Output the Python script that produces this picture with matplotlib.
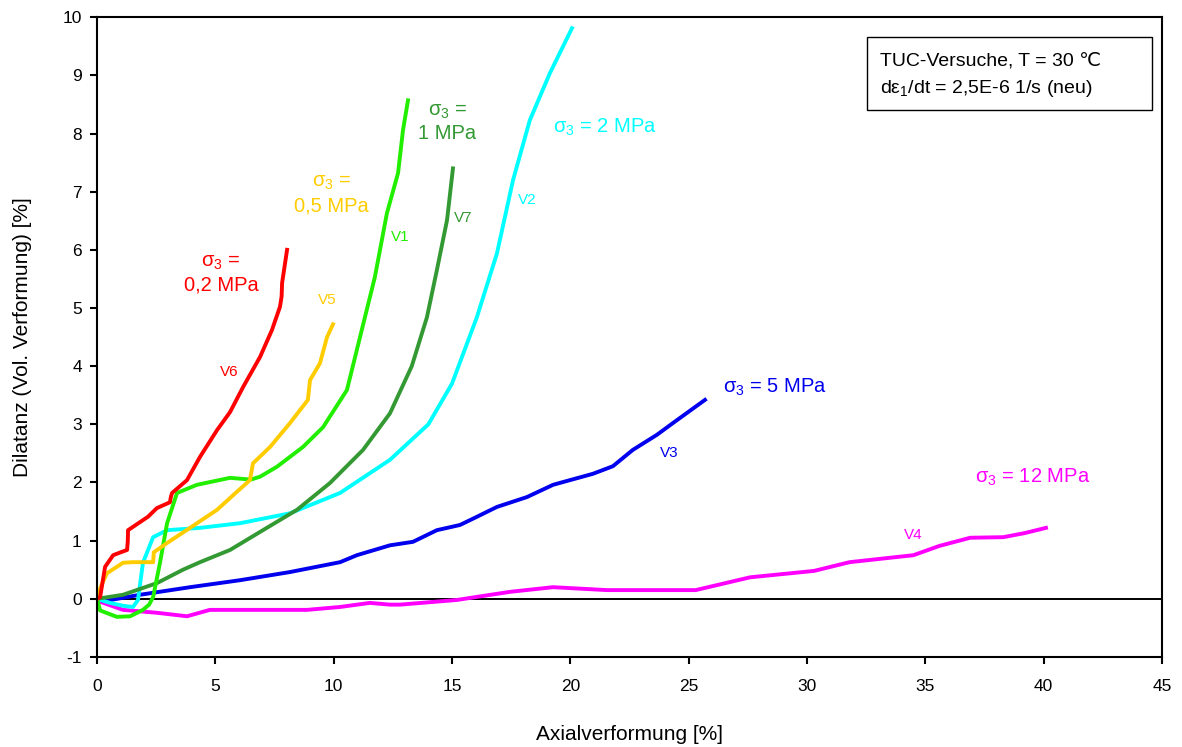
import numpy as np
import matplotlib
matplotlib.use("Agg")
import matplotlib.pyplot as plt
from matplotlib.patches import Rectangle

plt.rcParams['font.family'] = ['Liberation Sans', 'DejaVu Sans']
plt.rcParams['mathtext.fontset'] = 'custom'
plt.rcParams['mathtext.rm'] = 'Liberation Sans'
plt.rcParams['mathtext.it'] = 'Liberation Sans:italic'
plt.rcParams['axes.unicode_minus'] = False

# V6, sigma3 = 0.2 MPa
v6_x = [0, 0.13, 0.34, 0.68, 1.0, 1.27, 1.3, 1.31, 1.82, 2.15, 2.53, 3.08, 3.12, 3.17, 3.8, 4.35, 5.07, 5.62, 6.17, 6.89, 7.39, 7.73, 7.8, 7.82, 8.03]
v6_y = [0, 0.03, 0.55, 0.75, 0.8, 0.84, 1.0, 1.18, 1.32, 1.41, 1.56, 1.66, 1.75, 1.82, 2.04, 2.44, 2.9, 3.21, 3.64, 4.16, 4.62, 5.02, 5.2, 5.43, 6.0]
# V5, sigma3 = 0.5 MPa
v5_x = [0, 0.15, 0.42, 1.1, 1.5, 2.37, 2.4, 2.96, 3.93, 5.07, 5.91, 6.46, 6.59, 7.31, 8.15, 8.91, 9.0, 9.42, 9.72, 9.97]
v5_y = [0, 0.2, 0.44, 0.62, 0.63, 0.63, 0.8, 0.96, 1.22, 1.53, 1.84, 2.04, 2.33, 2.61, 3.02, 3.42, 3.76, 4.05, 4.5, 4.72]
# V1, sigma3 = 1 MPa
v1_x = [0, 0.13, 0.84, 1.4, 1.94, 2.2, 2.37, 2.66, 2.96, 3.38, 4.22, 5.62, 6.5, 6.89, 7.6, 8.7, 9.55, 10.56, 11.32, 11.74, 12.25, 12.72, 12.93, 13.14]
v1_y = [0, -0.2, -0.31, -0.3, -0.19, -0.1, 0.03, 0.62, 1.3, 1.82, 1.96, 2.08, 2.05, 2.1, 2.27, 2.61, 2.95, 3.59, 4.84, 5.53, 6.63, 7.32, 8.06, 8.57]
# V7, sigma3 = 1 MPa
v7_x = [0, 1.1, 2.53, 3.63, 4.35, 5.62, 7.01, 8.45, 9.84, 11.24, 12.38, 13.3, 13.94, 14.36, 14.79, 15.04]
v7_y = [0, 0.07, 0.27, 0.5, 0.63, 0.84, 1.18, 1.53, 1.99, 2.56, 3.19, 4.0, 4.84, 5.65, 6.51, 7.4]
# V2, sigma3 = 2 MPa
v2_x = [0, 0.55, 1.1, 1.52, 1.73, 1.94, 2.37, 2.96, 4.35, 6.04, 8.15, 10.27, 12.38, 14.0, 15.0, 16.05, 16.9, 17.58, 18.29, 19.14, 20.07]
v2_y = [0, -0.07, -0.12, -0.14, -0.02, 0.62, 1.06, 1.18, 1.22, 1.3, 1.47, 1.82, 2.39, 3.0, 3.7, 4.84, 5.94, 7.2, 8.23, 9.04, 9.81]
# V3, sigma3 = 5 MPa
v3_x = [0, 0.3, 1.82, 3.93, 6.04, 8.15, 10.27, 10.98, 12.38, 13.35, 14.36, 15.34, 16.05, 16.9, 18.17, 19.27, 19.98, 20.96, 21.8, 22.64, 23.66, 24.33, 25.69]
v3_y = [0, -0.04, 0.07, 0.2, 0.32, 0.46, 0.63, 0.75, 0.92, 0.98, 1.18, 1.27, 1.41, 1.58, 1.75, 1.96, 2.04, 2.15, 2.28, 2.56, 2.82, 3.02, 3.42]
# V4, sigma3 = 12 MPa
v4_x = [0, 0.13, 1.1, 2.53, 3.8, 4.77, 6.76, 8.87, 10.27, 11.53, 12.38, 12.8, 15.2, 17.45, 19.27, 21.55, 25.3, 27.6, 30.3, 31.8, 34.5, 35.6, 36.9, 38.3, 39.2, 40.1]
v4_y = [0, -0.05, -0.19, -0.24, -0.3, -0.19, -0.19, -0.19, -0.14, -0.07, -0.1, -0.1, -0.02, 0.12, 0.2, 0.15, 0.15, 0.37, 0.48, 0.63, 0.75, 0.91, 1.05, 1.06, 1.13, 1.22]

c_red = '#ff0000'
c_orange = '#ffcc00'
c_lime = '#22ee00'
c_dgreen = '#339933'
c_cyan = '#00ffff'
c_blue = '#0000ee'
c_mag = '#ff00ff'

fig = plt.figure(figsize=(11.82, 7.47), dpi=100)
ax = fig.add_axes([0.0821, 0.1205, 0.9009, 0.8565])

lw = 2.8
ax.axhline(0, color='black', lw=1.4, zorder=1)
ax.plot(v4_x, v4_y, color=c_mag, lw=lw)
ax.plot(v3_x, v3_y, color=c_blue, lw=lw)
ax.plot(v2_x, v2_y, color=c_cyan, lw=lw)
ax.plot(v7_x, v7_y, color=c_dgreen, lw=lw)
ax.plot(v1_x, v1_y, color=c_lime, lw=lw)
ax.plot(v5_x, v5_y, color=c_orange, lw=lw)
ax.plot(v6_x, v6_y, color=c_red, lw=lw)

ax.set_xlim(0, 45)
ax.set_ylim(-1, 10)
ax.set_xticks(np.arange(0, 46, 5))
ax.set_yticks(np.arange(-1, 11, 1))
ax.tick_params(axis='both', direction='out', length=5, width=1.5, labelsize=12.5)
ax.tick_params(axis='x', pad=11)
ax.tick_params(axis='y', pad=6)
for s in ax.spines.values():
    s.set_linewidth(1.5)

ax.set_xlabel('Axialverformung [%]', fontsize=15, labelpad=22)
ax.set_ylabel('Dilatanz (Vol. Verformung) [%]', fontsize=15, labelpad=22)

big = 14.5
small = 11
s3 = 'σ$_\\mathrm{3}$'

def two_lines(x, y1, y2, l1, l2, col):
    ax.text(x, y1, l1, color=col, fontsize=big, ha='center', va='center')
    ax.text(x, y2, l2, color=col, fontsize=big, ha='center', va='center')

two_lines(5.24, 5.79, 5.40, s3 + ' =', '0,2 MPa', c_red)
two_lines(9.9, 7.16, 6.75, s3 + ' =', '0,5 MPa', c_orange)
two_lines(14.8, 8.38, 8.0, s3 + ' =', '1 MPa', c_dgreen)
ax.text(19.26, 8.11, s3 + ' = 2 MPa', color=c_cyan, fontsize=big, ha='left', va='center')
ax.text(26.45, 3.64, s3 + ' = 5 MPa', color=c_blue, fontsize=big, ha='left', va='center')
ax.text(37.1, 2.08, s3 + ' = 12 MPa', color=c_mag, fontsize=big, ha='left', va='center')

ax.text(5.58, 3.9, 'V6', color=c_red, fontsize=small, ha='center', va='center')
ax.text(9.72, 5.14, 'V5', color=c_orange, fontsize=small, ha='center', va='center')
ax.text(12.8, 6.22, 'V1', color=c_lime, fontsize=small, ha='center', va='center')
ax.text(15.46, 6.55, 'V7', color=c_dgreen, fontsize=small, ha='center', va='center')
ax.text(18.17, 6.85, 'V2', color=c_cyan, fontsize=small, ha='center', va='center')
ax.text(24.2, 2.51, 'V3', color=c_blue, fontsize=small, ha='center', va='center')
ax.text(34.5, 1.1, 'V4', color=c_mag, fontsize=small, ha='center', va='center')

# info box
ax.add_patch(Rectangle((0.723, 0.855), 0.2676, 0.114, transform=ax.transAxes,
                       fc='white', ec='black', lw=1.0, zorder=5))
ax.text(0.735, 0.932, 'TUC-Versuche, T = 30 ℃', transform=ax.transAxes,
        fontsize=14, ha='left', va='center', zorder=6)
ax.text(0.735, 0.889, 'dε$_\\mathrm{1}$/dt = 2,5E-6 1/s (neu)', transform=ax.transAxes,
        fontsize=14, ha='left', va='center', zorder=6)

fig.savefig('out.png', dpi=100)
